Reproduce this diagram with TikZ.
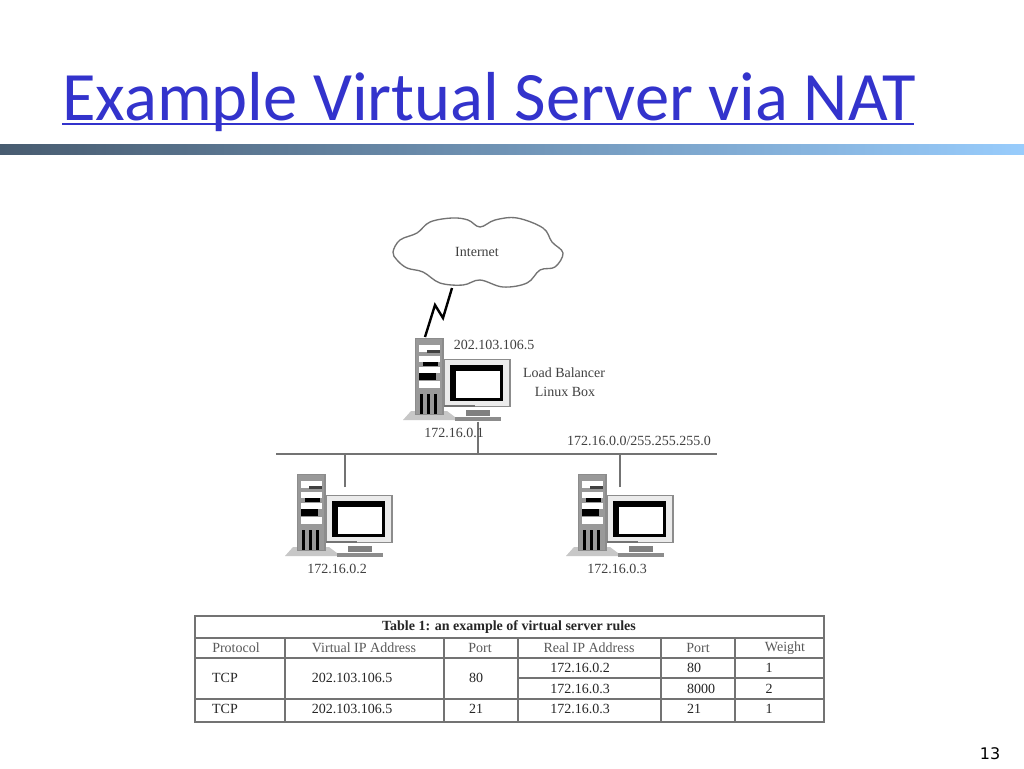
\documentclass[tikz,border=0pt]{standalone}
\usepackage{fontspec}
\setmainfont{Liberation Serif}
\newfontfamily\titlefont{Carlito}
\newfontfamily\pagefont{DejaVu Sans}
\usepackage{tikz}
\usetikzlibrary{positioning}
\definecolor{titleblue}{RGB}{51,51,204}
\definecolor{linegray}{gray}{0.45}
\definecolor{bandA}{RGB}{72,92,112}
\definecolor{bandB}{RGB}{112,152,194}
\definecolor{bandC}{RGB}{152,204,252}
\tikzset{
	label/.style={font=\fontsize{10.5}{12}\selectfont, text=black!75, inner sep=0pt},
	tablehead/.style={font=\fontsize{10.5}{12}\selectfont, text=black!65, inner sep=0pt},
	tablecell/.style={font=\fontsize{10.5}{12}\selectfont, text=black!85, inner sep=0pt},
	wire/.style={draw=linegray, line width=1.1pt},
	rule/.style={draw=linegray, line width=0.9pt},
}
% one computer: tower, monitor and base, #2 #3 = top left corner of the tower
\newcommand{\computer}[3]{
	\begin{scope}[shift={(#2,#3)}]
		\fill[black!22] (-12,82) -- (-4,73) -- (32,73) -- (44,82) -- cycle;
		\node[draw=black!45, fill=black!40, line width=1pt, minimum width=20.5pt, minimum height=57pt, inner sep=0pt, anchor=north west] (#1tower) at (0,0) {};
		\fill[white] (4,7) rectangle (25,14);
		\fill[white] (4,18) rectangle (25,24);
		\fill[white] (4,29) rectangle (25,35);
		\fill[white] (4,43) rectangle (25,50);
		\fill[black] (8,24) rectangle (23,28);
		\fill[black] (4,35) rectangle (21,42);
		\fill[black!75] (12,12) rectangle (25,15);
		\fill[black] (5,56) rectangle (8,76);
		\fill[black] (12,56) rectangle (15,76);
		\fill[black] (19,56) rectangle (22,76);
		\node[draw=black!45, fill=black!8, line width=1pt, minimum width=49pt, minimum height=35pt, inner sep=0pt, anchor=north west] (#1monitor) at (29,21) {};
		\fill[black] (35,27) rectangle (88,63);
		\fill[white] (41,33) rectangle (85,60);
		\fill[black!55] (29,67) rectangle (60,69);
		\node[fill=black!50, minimum width=18pt, minimum height=4.5pt, inner sep=0pt] (#1stand) at (63,75) {};
		\node[fill=black!45, minimum width=34pt, minimum height=3pt, inner sep=0pt, anchor=north] (#1base) at (63,79) {};
	\end{scope}
}

\begin{document}
\begin{tikzpicture}[x=0.75pt, y=-0.75pt]
	\useasboundingbox (0,0) rectangle (1024,768);
	\fill[white] (0,0) rectangle (1024,768);

	% title and band
	\node[anchor=base west, inner sep=0pt, text=titleblue, font=\titlefont\fontsize{52}{60}\selectfont, xscale=0.989] (title) at (62,120) {Example Virtual Server via NAT};
	\draw[draw=titleblue, line width=2pt] (62,124) -- (914,124);
	\shade[left color=bandA, middle color=bandB, right color=bandC] (0,144) rectangle (1024,154);

	% network
	\draw[draw=linegray, line width=1pt] plot[smooth cycle, tension=0.6] coordinates {(393,252) (400,240) (417,233) (430,222) (452,218) (468,220) (480,227) (495,220) (517,218) (543,228) (552,242) (563,253) (555,267) (540,270) (527,283) (503,287) (480,280) (463,285) (440,283) (423,272) (407,268) (397,260)};
	\node[label] (internet) at (477,252) {Internet};

	\computer{lb}{415}{338}
	\computer{pcA}{297}{474}
	\computer{pcB}{578}{474}

	\coordinate (flashStart) at (452,288);
	\coordinate (flashEnd) at (425,337);
	\draw[black, line width=1.8pt] (flashStart) -- (443,318) -- (435,305) -- (flashEnd);

	\coordinate (busL) at (276,454);
	\coordinate (busR) at (717,454);
	\coordinate (tapA) at (345,487);
	\coordinate (tapB) at (620,487);
	\draw[wire] (busL) -- (busR);
	\draw[wire] (lbbase.south) -- (lbbase.south |- busL);
	\draw[wire] (tapA) -- (tapA |- busL);
	\draw[wire] (tapB) -- (tapB |- busL);

	\node[label] (lbPublic) at (494,345) {202.103.106.5};
	\node[label] (lbName) at (564,373) {Load Balancer};
	\node[label] (lbOs) at (565,392) {Linux Box};
	\node[label] (lbPrivate) at (454,433) {172.16.0.1};
	\node[label] (netText) at (639,441) {172.16.0.0/255.255.255.0};
	\node[label] (pcAText) at (337,569) {172.16.0.2};
	\node[label] (pcBText) at (617,569) {172.16.0.3};

	% table
	\draw[rule] (195,616) rectangle (824,722);
	\draw[rule] (195,638) -- (824,638);
	\draw[rule] (195,658) -- (824,658);
	\draw[rule] (518,678) -- (824,678);
	\draw[rule] (195,699) -- (824,699);
	\foreach \x in {285,444,518,661,735} {
		\draw[rule] (\x,638) -- (\x,722);
	}
	\node[font=\bfseries\fontsize{10.5}{12}\selectfont, text=black!85, inner sep=0pt] (tableTitle) at (509,627) {Table 1: an example of virtual server rules};

	\node[tablehead] (hProto) at (236,648) {Protocol};
	\node[tablehead] (hVirtual) at (364,648) {Virtual IP Address};
	\node[tablehead] (hPortA) at (480,648) {Port};
	\node[tablehead] (hReal) at (589,648) {Real IP Address};
	\node[tablehead] (hPortB) at (698,648) {Port};
	\node[tablehead] (hWeight) at (785,648) {Weight};

	\node[tablecell] (aProto) at (225,678) {TCP};
	\node[tablecell] (aVirtual) at (352,678) {202.103.106.5};
	\node[tablecell] (aPort) at (476,678) {80};
	\node[tablecell] (aReal) at (580,668) {172.16.0.2};
	\node[tablecell] (aPortB) at (694,668) {80};
	\node[tablecell] (aWeight) at (769,668) {1};
	\node[tablecell] (bReal) at (580,689) {172.16.0.3};
	\node[tablecell] (bPortB) at (701,689) {8000};
	\node[tablecell] (bWeight) at (769,689) {2};
	\node[tablecell] (cProto) at (225,709) {TCP};
	\node[tablecell] (cVirtual) at (352,709) {202.103.106.5};
	\node[tablecell] (cPort) at (476,709) {21};
	\node[tablecell] (cReal) at (580,709) {172.16.0.3};
	\node[tablecell] (cPortB) at (694,709) {21};
	\node[tablecell] (cWeight) at (769,709) {1};

	\node[font=\pagefont\fontsize{12}{14}\selectfont, inner sep=0pt] (pageNr) at (990,754) {13};
\end{tikzpicture}
\end{document}
